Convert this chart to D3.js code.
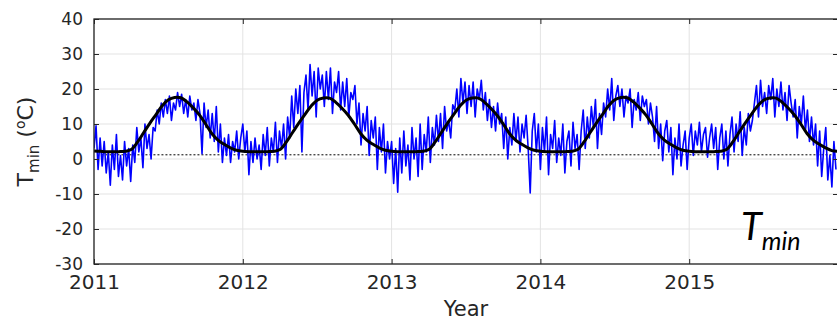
<!DOCTYPE html>
<html>
<head>
<meta charset="utf-8">
<script src="https://cdn.jsdelivr.net/npm/d3@7"></script>
<style>
  body { margin: 0; background: #fff; }
  svg { display: block; }
</style>
</head>
<body>
<div id="chart"></div>
<script>
// tick labels
var xTicks = [2011, 2012, 2013, 2014, 2015, 2016];
var xLabels = ["2011", "2012", "2013", "2014", "2015", ""];
var yTicks = [-30, -20, -10, 0, 10, 20, 30, 40];

// daily minimum temperature, one reading every 5 days (73 per year)
var tmin2011 = [3, 9.5, -3, 6, -2, 5, -4, 2, -7.5, 4, -3, 7, -5, 1, -6, 5, -2, 3, -6.4,
  4, -1, 9, 2, 6, -2.5, 10, 3, 7, 0, 9, 8, 14, 10, 16, 12, 17, 13, 18, 11, 16, 14, 19, 15, 18.5, 13,
  17, 12, 18, 14, 16, 11, 17, 13, 1.5, 16, 9, 14, 6, 13, 5, 15, 2, 10, -1, 6,
  1, 7, -1, 5, 2, 8, 0, 6];
var tmin2012 = [10, 2, 8, -4.5, 5, -1, 6, 0, 4, -3, 7, 1, 9, -2, 6, 2, 10.5, -1, 8, 3, 10, 0,
  12, 6, 18, 9, 20, 13, 21, 2, 19, 24, 14, 27, 18, 25, 12, 26, 20, 24, 15,
  25, 17, 26, 13, 22, 19, 25, 14, 22, 15, 23, 12, 19, 17, 21,
  10, 16, 4, 13, 8, 15, 1, 11, 6, 12, -3, 9, 2, 10, -4, 5, 0];
var tmin2013 = [5, -7, 3, -9.5, 6, -4, 8, -2, 4, -6, 9, 0, 6, -5, 10, -3, 7, 2, 12, -1, 9, 4, 12.5,
  5, 13, 3, 15, 8, 11, 6, 15.5, 14, 20, 12, 23, 16, 22,
  13, 21, 15, 22, 12, 20, 17, 22.5, 14, 19, 11, 17, 9, 15, 8, 16, 10, 13,
  3, 12, 0, 9, 4, 13, 5, 12, 2, 10, 6, 12.5, 3, -9.7, 8, 13, 2, 10];
var tmin2014 = [-3, 9, 2, 12, -4.5, 7, 3, 11, -1, 6, 1, 10, -4, 5, 8, -2, 10.5, 3, 7, -3,
  8, 14, 3, 12, 6, 15, 9, 17, 3, 13, 7, 16, 12, 20, 14, 23, 11, 18, 21,
  15, 20, 12, 18, 16, 20, 9, 17, 14, 19, 11, 18, 15, 17, 10, 16,
  12, 5, 15, 3, 10, -0.5, 8, 11, 2, 9, -4.5, 6, 0, 10, -2, 4, 8, -3];
var tmin2015 = [6, 10, 1, 8, 4, 10.5, 2, 7, 9, 0.5, 6, 10, 3, 9, -3, 6, 10, 0, 8, -2,
  7, 12, 2, 10, 5, 13.5, 1, 9, 4, 13, 8, 11,
  16, 21, 12, 22.5, 15, 19, 13, 21, 17, 23, 12, 20, 15, 22, 14, 19, 11, 21, 16,
  12, 17, 6, 15, 10, 18, 8, 14, 5, 12, 4, 10, -2, 8, -5, 3, 9, -6, 1, -8, 5, -3];

// fitted seasonal curve, twice a month
var fit2011 = [2.3, 2.2, 2.1, 2.1, 2.1, 2.2, 2.7, 4.8, 7.5, 10.2, 12.7, 15.2, 16.9, 17.6, 17.5, 16.3, 14.6, 12.6, 10.0, 7.3, 5.4, 4.2, 3.2, 2.5];
var fit2012 = [2.2, 2.1, 2.1, 2.1, 2.1, 2.2, 2.7, 4.8, 7.5, 10.2, 12.7, 15.1, 16.8, 17.4, 17.4, 16.2, 14.5, 12.5, 10.0, 7.3, 5.4, 4.2, 3.2, 2.5];
var fit2013 = [2.2, 2.1, 2.1, 2.1, 2.1, 2.2, 2.7, 4.8, 7.5, 10.2, 12.7, 15.1, 16.8, 17.4, 17.4, 16.2, 14.5, 12.5, 10.0, 7.3, 5.4, 4.2, 3.2, 2.5];
var fit2014 = [2.2, 2.1, 2.1, 2.1, 2.1, 2.2, 2.7, 4.8, 7.5, 10.2, 12.7, 15.2, 16.9, 17.6, 17.5, 16.3, 14.6, 12.6, 10.0, 7.3, 5.4, 4.2, 3.2, 2.5];
var fit2015 = [2.2, 2.1, 2.1, 2.1, 2.1, 2.2, 2.7, 4.8, 7.5, 10.2, 12.7, 15.1, 16.8, 17.4, 17.4, 16.2, 14.5, 12.5, 10.0, 7.3, 5.4, 4.2, 3.2, 2.4];
var fitEnd = 2.2;

var baseline = 1.2;

var WIDTH = 837, HEIGHT = 321;
var margin = {top: 19, left: 94, right: 838, bottom: 264};

var svg = d3.select("#chart").append("svg")
  .attr("width", WIDTH)
  .attr("height", HEIGHT)
  .style("font-family", "'DejaVu Sans', sans-serif");

var x = d3.scaleLinear().domain([2011, 2016]).range([margin.left, margin.right]);
var y = d3.scaleLinear().domain([-30, 40]).range([margin.bottom, margin.top]);

// build series
var daily = [];
[tmin2011, tmin2012, tmin2013, tmin2014, tmin2015].forEach(function(arr, k){
  arr.forEach(function(v, i){ daily.push({t: 2011 + k + i / 73, v: v}); });
});
var fit = [];
[fit2011, fit2012, fit2013, fit2014, fit2015].forEach(function(arr, k){
  arr.forEach(function(v, i){ fit.push({t: 2011 + k + i / 24, v: v}); });
});
fit.push({t: 2016, v: fitEnd});

svg.append("defs").append("clipPath").attr("id", "plotclip")
  .append("rect")
  .attr("x", margin.left).attr("y", margin.top)
  .attr("width", margin.right - margin.left)
  .attr("height", margin.bottom - margin.top);

// grid
var grid = svg.append("g").attr("class", "grid");
grid.selectAll("line.gy").data(yTicks).enter().append("line")
  .attr("x1", margin.left).attr("x2", margin.right)
  .attr("y1", function(d){ return y(d); }).attr("y2", function(d){ return y(d); })
  .attr("stroke", "#e3e3e3").attr("stroke-width", 1);
grid.selectAll("line.gx").data(xTicks).enter().append("line")
  .attr("y1", margin.top).attr("y2", margin.bottom)
  .attr("x1", function(d){ return x(d); }).attr("x2", function(d){ return x(d); })
  .attr("stroke", "#e3e3e3").attr("stroke-width", 1);

var plot = svg.append("g").attr("clip-path", "url(#plotclip)");

// dotted reference line
plot.append("line")
  .attr("x1", x(2011.05)).attr("x2", x(2015.97))
  .attr("y1", y(baseline)).attr("y2", y(baseline))
  .attr("stroke", "#000").attr("stroke-width", 1)
  .attr("stroke-dasharray", "2,2");

var line = d3.line()
  .x(function(d){ return x(d.t); })
  .y(function(d){ return y(d.v); });

plot.append("path")
  .datum(daily)
  .attr("d", line)
  .attr("fill", "none")
  .attr("stroke", "#0000ff")
  .attr("stroke-width", 1.6)
  .attr("stroke-linejoin", "round");

plot.append("path")
  .datum(fit)
  .attr("d", line.curve(d3.curveCatmullRom))
  .attr("fill", "none")
  .attr("stroke", "#000")
  .attr("stroke-width", 3);

// axes, MATLAB style: ticks pointing in
var axisColor = "#262626";
function styleAxis(g){
  g.select(".domain").remove();
  g.selectAll(".tick line").attr("stroke", axisColor).attr("stroke-width", 1);
  g.selectAll(".tick text").attr("fill", axisColor);
}

svg.append("g")
  .attr("transform", "translate(" + margin.left + ",0)")
  .call(d3.axisLeft(y).tickValues(yTicks).tickSizeInner(-5).tickSizeOuter(0).tickPadding(11)
    .tickFormat(function(d){ return String(d); }))
  .call(styleAxis)
  .selectAll("text").style("font-size", "17px").style("font-family", "'DejaVu Sans', sans-serif");

svg.append("g")
  .attr("transform", "translate(" + margin.right + ",0)")
  .call(d3.axisRight(y).tickValues(yTicks).tickSizeInner(-5).tickSizeOuter(0).tickFormat(""))
  .call(styleAxis);

svg.append("g")
  .attr("transform", "translate(0," + margin.bottom + ")")
  .call(d3.axisBottom(x).tickValues(xTicks).tickSizeInner(-5).tickSizeOuter(0).tickPadding(11)
    .tickFormat(function(d, i){ return xLabels[i]; }))
  .call(styleAxis)
  .selectAll("text").style("font-size", "20px").style("font-family", "'DejaVu Sans', sans-serif");

svg.append("g")
  .attr("transform", "translate(0," + margin.top + ")")
  .call(d3.axisTop(x).tickValues(xTicks).tickSizeInner(-5).tickSizeOuter(0).tickFormat(""))
  .call(styleAxis);

// frame
svg.append("rect")
  .attr("x", margin.left).attr("y", margin.top)
  .attr("width", margin.right - margin.left)
  .attr("height", margin.bottom - margin.top)
  .attr("fill", "none")
  .attr("stroke", axisColor)
  .attr("stroke-width", 1.3);

// axis titles
svg.append("text")
  .attr("x", (margin.left + margin.right) / 2)
  .attr("y", 316)
  .attr("text-anchor", "middle")
  .attr("fill", axisColor)
  .style("font-size", "21px")
  .text("Year");

var yl = svg.append("text")
  .attr("transform", "translate(33," + ((margin.top + margin.bottom) / 2) + ") rotate(-90)")
  .attr("text-anchor", "middle")
  .attr("fill", axisColor)
  .style("font-size", "22px");
yl.append("tspan").text("T");
yl.append("tspan").attr("dy", 6).style("font-size", "15px").text("min");
yl.append("tspan").attr("dy", -6).text(" (");
yl.append("tspan").attr("dy", -8).style("font-size", "14px").text("o");
yl.append("tspan").attr("dy", 8).text("C)");

// annotation
var ann = svg.append("text")
  .attr("x", 741)
  .attr("y", 240)
  .attr("fill", "#000")
  .style("font-family", "Lato, 'Open Sans', sans-serif")
  .style("font-style", "italic");
ann.append("tspan").style("font-size", "38px").text("T");
ann.append("tspan").attr("dy", 10).style("font-size", "25px").text("min");
</script>
</body>
</html>
